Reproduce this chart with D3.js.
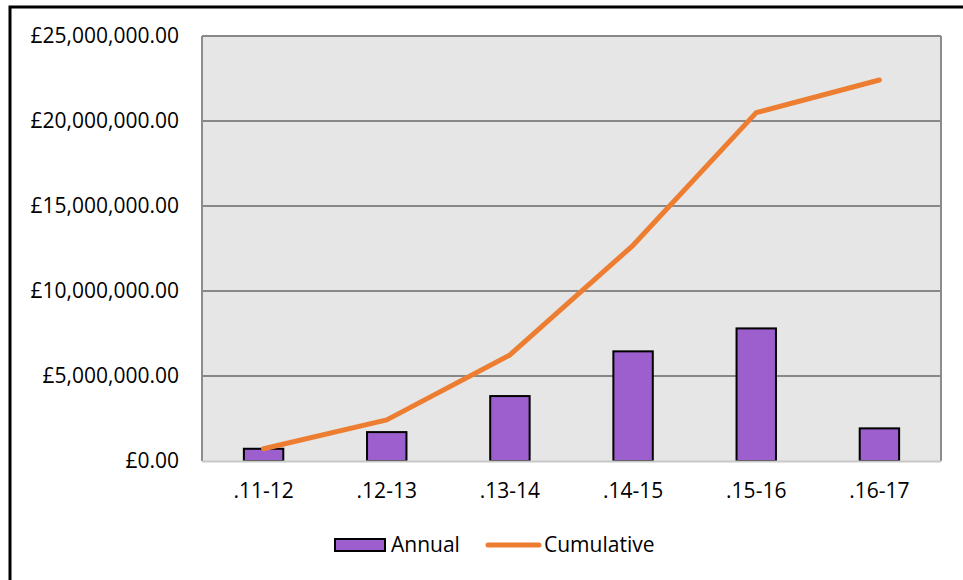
<!DOCTYPE html>
<html><head><meta charset="utf-8">
<script src="https://cdn.jsdelivr.net/npm/d3@7"></script>
<style>
body{margin:0;background:#fff;}
svg{display:block;font-family:"Open Sans",sans-serif;}
</style></head>
<body><svg id="c" width="963" height="580"></svg>
<script>
const categories = [".11-12", ".12-13", ".13-14", ".14-15", ".15-16", ".16-17"];
const annual = [720000, 1700000, 3820000, 6450000, 7800000, 1920000];
const cumulative = [720000, 2420000, 6240000, 12690000, 20490000, 22410000];
const yTicks = [0, 5000000, 10000000, 15000000, 20000000, 25000000];
const seriesNames = ["Annual", "Cumulative"];

const FONT = "'Open Sans', sans-serif";
const FS = 21;
const svg = d3.select("#c");
const m = {l: 202, r: 941, t: 36, b: 461};
const x = d3.scaleBand().domain(categories).range([m.l, m.r]).paddingInner(0.68).paddingOuter(0.34);
const y = d3.scaleLinear().domain([0, 25000000]).range([m.b, m.t]);

// outer border
svg.append("rect").attr("x", 10).attr("y", 7).attr("width", 970).attr("height", 600)
  .attr("fill", "none").attr("stroke", "#000").attr("stroke-width", 3);

// plot background
svg.append("rect").attr("x", m.l).attr("y", m.t).attr("width", m.r - m.l).attr("height", m.b - m.t)
  .attr("fill", "#e6e6e6");

// gridlines
svg.append("g").selectAll("line").data(yTicks.slice(1)).join("line")
  .attr("x1", m.l).attr("x2", m.r).attr("y1", d => y(d)).attr("y2", d => y(d))
  .attr("stroke", "#888").attr("stroke-width", 2);

// plot border left/right
svg.append("line").attr("x1", m.l).attr("x2", m.l).attr("y1", m.t).attr("y2", m.b).attr("stroke", "#8c8c8c").attr("stroke-width", 2);
svg.append("line").attr("x1", m.r).attr("x2", m.r).attr("y1", m.t).attr("y2", m.b).attr("stroke", "#8c8c8c").attr("stroke-width", 2);

// bars
svg.append("g").selectAll("rect").data(annual).join("rect")
  .attr("x", (d, i) => x(categories[i]))
  .attr("width", x.bandwidth())
  .attr("y", d => y(d))
  .attr("height", d => y(0) - y(d))
  .attr("fill", "#9e5fce").attr("stroke", "#000").attr("stroke-width", 2);

// bottom axis line
svg.append("line").attr("x1", m.l).attr("x2", m.r).attr("y1", m.b + 0.5).attr("y2", m.b + 0.5)
  .attr("stroke", "#c8c8c8").attr("stroke-width", 2);

// cumulative line
const line = d3.line().x((d, i) => x(categories[i]) + x.bandwidth() / 2).y(d => y(d));
svg.append("path").datum(cumulative).attr("d", line)
  .attr("fill", "none").attr("stroke", "#ed7d31").attr("stroke-width", 5)
  .attr("stroke-linecap", "round").attr("stroke-linejoin", "round");

// y axis
const fmt = d => "£" + d3.format(",.2f")(d);
const yAxis = d3.axisLeft(y).tickValues(yTicks).tickFormat(fmt).tickSize(0).tickPadding(23);
const gy = svg.append("g").attr("transform", `translate(${m.l},0)`).call(yAxis);
gy.select(".domain").remove();
gy.selectAll("text").attr("font-size", FS).attr("fill", "#000").attr("font-family", FONT);

// x axis
const xAxis = d3.axisBottom(x).tickSize(0).tickPadding(22);
const gx = svg.append("g").attr("transform", `translate(0,${m.b})`).call(xAxis);
gx.select(".domain").remove();
gx.selectAll("text").attr("font-size", FS).attr("fill", "#000").attr("font-family", FONT);

// legend
const lg = svg.append("g").attr("font-family", FONT);
lg.append("rect").attr("x", 335).attr("y", 539).attr("width", 50).attr("height", 12)
  .attr("fill", "#9e5fce").attr("stroke", "#000").attr("stroke-width", 2);
lg.append("text").attr("x", 391).attr("y", 545).attr("dy", "0.35em").attr("font-size", FS).text(seriesNames[0]);
lg.append("line").attr("x1", 488).attr("x2", 539).attr("y1", 545).attr("y2", 545)
  .attr("stroke", "#ed7d31").attr("stroke-width", 5).attr("stroke-linecap", "round");
lg.append("text").attr("x", 544).attr("y", 545).attr("dy", "0.35em").attr("font-size", FS).text(seriesNames[1]);
</script></body></html>
